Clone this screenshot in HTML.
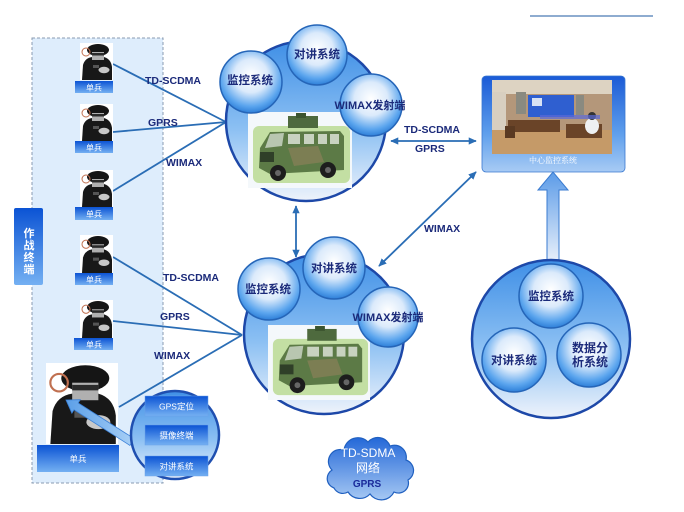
<!DOCTYPE html>
<html>
<head>
<meta charset="utf-8">
<style>
html,body{margin:0;padding:0;background:#fff;}
body{width:684px;height:512px;overflow:hidden;}
svg{display:block;}
</style>
</head>
<body>
<svg width="684" height="512" viewBox="0 0 684 512" xmlns="http://www.w3.org/2000/svg" font-family="'Liberation Sans','Noto Sans CJK SC',sans-serif">
<defs>
  <radialGradient id="bub" cx="50%" cy="40%" r="60%">
    <stop offset="0" stop-color="#ffffff"/>
    <stop offset="0.45" stop-color="#dbeafb"/>
    <stop offset="0.82" stop-color="#5ba5ee"/>
    <stop offset="1" stop-color="#2e7fd8"/>
  </radialGradient>
  <linearGradient id="big" x1="0" y1="0" x2="0" y2="1">
    <stop offset="0" stop-color="#3f8fe6"/>
    <stop offset="0.55" stop-color="#8cc0f3"/>
    <stop offset="1" stop-color="#eef3fb"/>
  </linearGradient>
  <linearGradient id="btn" x1="0" y1="0" x2="0" y2="1">
    <stop offset="0" stop-color="#0b53d4"/>
    <stop offset="1" stop-color="#74b0f2"/>
  </linearGradient>
  <linearGradient id="box" x1="0" y1="0" x2="0" y2="1">
    <stop offset="0" stop-color="#1a5ad6"/>
    <stop offset="0.6" stop-color="#5f9fec"/>
    <stop offset="1" stop-color="#a8cbf4"/>
  </linearGradient>
  <linearGradient id="cloud" x1="0" y1="0" x2="0" y2="1">
    <stop offset="0" stop-color="#2468d8"/>
    <stop offset="1" stop-color="#a6c8f3"/>
  </linearGradient>
  <linearGradient id="uparr" x1="0" y1="0" x2="0" y2="1">
    <stop offset="0" stop-color="#5b9be8"/>
    <stop offset="1" stop-color="#eef3fb"/>
  </linearGradient>
  <linearGradient id="fatarr" x1="0" y1="0" x2="1" y2="0">
    <stop offset="0" stop-color="#5b9fe8"/>
    <stop offset="1" stop-color="#a9d0f6"/>
  </linearGradient>
  <marker id="ah" viewBox="0 0 10 10" refX="9" refY="5" markerWidth="4.5" markerHeight="4.5" orient="auto-start-reverse">
    <path d="M0,0.5 L10,5 L0,9.5 z" fill="#2a6db5"/>
  </marker>
  <symbol id="sol" viewBox="0 0 33 37" preserveAspectRatio="none">
    <rect x="0" y="0" width="33" height="37" fill="#ffffff"/>
    <path d="M2,37 L3,22 Q5,15 12,14 L24,14 Q31,16 32,24 L32,37 Z" fill="#181818"/>
    <ellipse cx="18" cy="7" rx="11" ry="6" fill="#151515"/>
    <rect x="12" y="9" width="12" height="8" fill="#b0b0b0"/>
    <rect x="12" y="10" width="12" height="2.5" fill="#2a2a2a"/>
    <circle cx="6" cy="9" r="4" fill="none" stroke="#c07050" stroke-width="1"/>
    <ellipse cx="24" cy="27" rx="5.5" ry="3.2" fill="#c8c8c8"/>
    <rect x="13" y="22" width="6" height="3" fill="#555"/>
  </symbol>
  <symbol id="car" viewBox="0 0 104 76" preserveAspectRatio="none">
    <rect x="0" y="0" width="104" height="76" fill="#f4f8fb"/>
    <rect x="5" y="14" width="97" height="57" rx="6" fill="#c3dfa3"/>
    <rect x="40" y="4" width="30" height="12" fill="#4e6a3e"/>
    <rect x="48" y="1" width="10" height="5" fill="#3c5530"/>
    <path d="M12,36 L22,20 L92,19 L96,24 L96,58 L22,62 L11,56 Z" fill="#5c7a46"/>
    <path d="M22,22 L36,21 L34,34 L17,36 Z" fill="#b8c6b0"/>
    <rect x="40" y="22" width="12" height="10" fill="#c8d2c0"/>
    <rect x="56" y="22" width="10" height="10" fill="#c8d2c0"/>
    <rect x="70" y="22" width="9" height="10" fill="#c8d2c0"/>
    <rect x="82" y="22" width="9" height="10" fill="#c8d2c0"/>
    <path d="M40,36 L70,34 L76,50 L46,54 Z" fill="#8a8058" opacity="0.7"/>
    <rect x="12" y="40" width="14" height="10" fill="#2f3f28"/>
    <circle cx="30" cy="61" r="8" fill="#1d1d1d"/>
    <circle cx="80" cy="58" r="8" fill="#1d1d1d"/>
    <circle cx="30" cy="61" r="3" fill="#666"/>
    <circle cx="80" cy="58" r="3" fill="#666"/>
  </symbol>
</defs>

<line x1="530" y1="16" x2="653" y2="16" stroke="#4a7ab5" stroke-width="1.3"/>

<rect x="32" y="38" width="131" height="445" fill="#deedfc" stroke="#8a9bb2" stroke-width="1" stroke-dasharray="3,2"/>

<rect x="14" y="208" width="29" height="77" rx="2" fill="url(#btn)"/>
<g fill="#ffffff" font-size="11" font-weight="bold" text-anchor="middle">
  <text x="29" y="237">作</text>
  <text x="29" y="249">战</text>
  <text x="29" y="261">终</text>
  <text x="29" y="273">端</text>
</g>

<g stroke="#2a6db5" stroke-width="1.8" fill="none">
  <line x1="113" y1="64" x2="226" y2="122"/>
  <line x1="113" y1="132" x2="226" y2="122"/>
  <line x1="113" y1="191" x2="226" y2="122"/>
  <line x1="113" y1="257" x2="242" y2="335"/>
  <line x1="113" y1="321" x2="242" y2="335"/>
  <line x1="119" y1="407" x2="242" y2="335"/>
</g>

<use href="#sol" x="80" y="43" width="33" height="37"/>
<rect x="75" y="81" width="38" height="12" fill="url(#btn)"/>
<text x="94" y="90.5" fill="#fff" font-size="8" text-anchor="middle">单兵</text>

<use href="#sol" x="80" y="104" width="33" height="37"/>
<rect x="75" y="141" width="38" height="12" fill="url(#btn)"/>
<text x="94" y="150.5" fill="#fff" font-size="8" text-anchor="middle">单兵</text>

<use href="#sol" x="80" y="170" width="33" height="37"/>
<rect x="75" y="207" width="38" height="13" fill="url(#btn)"/>
<text x="94" y="217" fill="#fff" font-size="8" text-anchor="middle">单兵</text>

<use href="#sol" x="80" y="235" width="33" height="38"/>
<rect x="75" y="273" width="38" height="12" fill="url(#btn)"/>
<text x="94" y="282.5" fill="#fff" font-size="8" text-anchor="middle">单兵</text>

<use href="#sol" x="80" y="300" width="33" height="38"/>
<rect x="74" y="338" width="39" height="12" fill="url(#btn)"/>
<text x="94" y="347.5" fill="#fff" font-size="8" text-anchor="middle">单兵</text>

<use href="#sol" x="46" y="363" width="72" height="81"/>
<rect x="37" y="445" width="82" height="27" fill="url(#btn)"/>
<text x="78" y="462" fill="#fff" font-size="8.5" text-anchor="middle">单兵</text>

<g fill="#1b2a7a" font-size="10.5" font-weight="bold">
  <text x="145" y="84">TD-SCDMA</text>
  <text x="148" y="126">GPRS</text>
  <text x="166" y="166">WIMAX</text>
  <text x="163" y="281">TD-SCDMA</text>
  <text x="160" y="320">GPRS</text>
  <text x="154" y="359">WIMAX</text>
  <text x="404" y="133">TD-SCDMA</text>
  <text x="415" y="152">GPRS</text>
  <text x="424" y="232">WIMAX</text>
</g>

<polygon points="134.1,438.6 78.2,403 80.3,399.7 66,400 71.9,413.1 74,409.8 129.9,445.4" fill="url(#fatarr)" stroke="#3a80d8" stroke-width="0.8"/>

<circle cx="175" cy="435" r="44" fill="url(#big)" stroke="#1f4fb0" stroke-width="2.5"/>
<rect x="145" y="396" width="63" height="20" fill="url(#btn)" stroke="#6aa0e8" stroke-width="0.5"/>
<text x="176.5" y="409.5" fill="#fff" font-size="8.5" text-anchor="middle">GPS定位</text>
<rect x="145" y="425" width="63" height="20" fill="url(#btn)" stroke="#6aa0e8" stroke-width="0.5"/>
<text x="176.5" y="438.5" fill="#fff" font-size="8.5" text-anchor="middle">摄像终端</text>
<rect x="145" y="456" width="63" height="20" fill="url(#btn)" stroke="#6aa0e8" stroke-width="0.5"/>
<text x="176.5" y="469.5" fill="#fff" font-size="8.5" text-anchor="middle">对讲系统</text>

<g stroke="#2a6db5" stroke-width="1.8" fill="none">
  <line x1="391" y1="141" x2="476" y2="141" marker-start="url(#ah)" marker-end="url(#ah)"/>
  <line x1="296" y1="206" x2="296" y2="257" marker-start="url(#ah)" marker-end="url(#ah)"/>
  <line x1="379" y1="266" x2="476" y2="172" marker-start="url(#ah)" marker-end="url(#ah)"/>
</g>

<circle cx="306" cy="121" r="80" fill="url(#big)" stroke="#1d48a8" stroke-width="2.5"/>
<use href="#car" x="248" y="112" width="104" height="76"/>
<circle cx="251" cy="82" r="31" fill="url(#bub)" stroke="#2565b8" stroke-width="1.5"/>
<circle cx="317" cy="55" r="30" fill="url(#bub)" stroke="#2565b8" stroke-width="1.5"/>
<circle cx="371" cy="105" r="31" fill="url(#bub)" stroke="#2565b8" stroke-width="1.5"/>
<g fill="#1b2a7a" font-size="11.5" font-weight="bold" text-anchor="middle">
  <text x="250" y="84">监控系统</text>
  <text x="317" y="58">对讲系统</text>
  <text x="370" y="109" font-size="11">WIMAX发射端</text>
</g>

<circle cx="324" cy="334" r="80" fill="url(#big)" stroke="#1d48a8" stroke-width="2.5"/>
<use href="#car" x="268" y="325" width="102" height="75"/>
<circle cx="269" cy="289" r="31" fill="url(#bub)" stroke="#2565b8" stroke-width="1.5"/>
<circle cx="334" cy="268" r="31" fill="url(#bub)" stroke="#2565b8" stroke-width="1.5"/>
<circle cx="388" cy="317" r="30" fill="url(#bub)" stroke="#2565b8" stroke-width="1.5"/>
<g fill="#1b2a7a" font-size="11.5" font-weight="bold" text-anchor="middle">
  <text x="268" y="293">监控系统</text>
  <text x="334" y="272">对讲系统</text>
  <text x="388" y="321" font-size="11">WIMAX发射端</text>
</g>

<rect x="482" y="76" width="143" height="96" rx="4" fill="url(#box)" stroke="#3a78d0" stroke-width="0.8"/>
<g>
  <rect x="492" y="80" width="120" height="74" fill="#b4977a"/>
  <rect x="492" y="80" width="120" height="14" fill="#ddd3c2"/>
  <rect x="492" y="92" width="14" height="38" fill="#d8cfc0"/>
  <rect x="516" y="92" width="10" height="22" fill="#8a8a80"/>
  <rect x="528" y="95" width="46" height="22" fill="#2f5fd0"/>
  <rect x="532" y="98" width="10" height="8" fill="#d8e2f4"/>
  <rect x="576" y="95" width="8" height="20" fill="#8a8a80"/>
  <rect x="492" y="130" width="120" height="24" fill="#c59a68"/>
  <rect x="508" y="120" width="52" height="12" fill="#6a4428"/>
  <rect x="505" y="126" width="10" height="12" fill="#5a3a22"/>
  <rect x="566" y="124" width="36" height="14" fill="#6a4428"/>
  <ellipse cx="592" cy="126" rx="7" ry="8" fill="#eef0f2"/>
  <circle cx="592" cy="116" r="4" fill="#333"/>
  <rect x="540" y="115" width="60" height="4" fill="#5a6ad8" opacity="0.7"/>
</g>
<text x="553" y="163" fill="#ffffff" font-size="8" text-anchor="middle" font-family="'Liberation Serif','Noto Serif CJK SC',serif">中心监控系统</text>

<path d="M547,265 L547,190 L538,190 L553,172 L568,190 L559,190 L559,265 Z" fill="url(#uparr)" stroke="#3a7bd0" stroke-width="1"/>

<circle cx="551" cy="339" r="79" fill="url(#big)" stroke="#1d48a8" stroke-width="2.5"/>
<circle cx="551" cy="296" r="32" fill="url(#bub)" stroke="#2565b8" stroke-width="1.5"/>
<circle cx="514" cy="360" r="32" fill="url(#bub)" stroke="#2565b8" stroke-width="1.5"/>
<circle cx="589" cy="355" r="32" fill="url(#bub)" stroke="#2565b8" stroke-width="1.5"/>
<g fill="#1b2a7a" font-size="11.5" font-weight="bold" text-anchor="middle">
  <text x="551" y="300">监控系统</text>
  <text x="514" y="364">对讲系统</text>
  <text x="590" y="352" font-size="12">数据分</text>
  <text x="590" y="366" font-size="12">析系统</text>
</g>

<path d="M334,488 a10,10 0 0 1 -2,-18 a12,12 0 0 1 12,-20 a14,14 0 0 1 24,-8 a13,13 0 0 1 22,4 a12,12 0 0 1 16,14 a11,11 0 0 1 2,20 a10,10 0 0 1 -14,12 a14,14 0 0 1 -24,2 a14,14 0 0 1 -22,-2 a10,10 0 0 1 -14,-4 Z" fill="url(#cloud)" stroke="#2060c0" stroke-width="1.2"/>
<g text-anchor="middle">
  <text x="368" y="457" fill="#ffffff" font-size="12">TD-SDMA</text>
  <text x="368" y="472" fill="#ffffff" font-size="12">网络</text>
  <text x="367" y="487" fill="#1a2a9a" font-size="10" font-weight="bold">GPRS</text>
</g>
</svg>
</body>
</html>
